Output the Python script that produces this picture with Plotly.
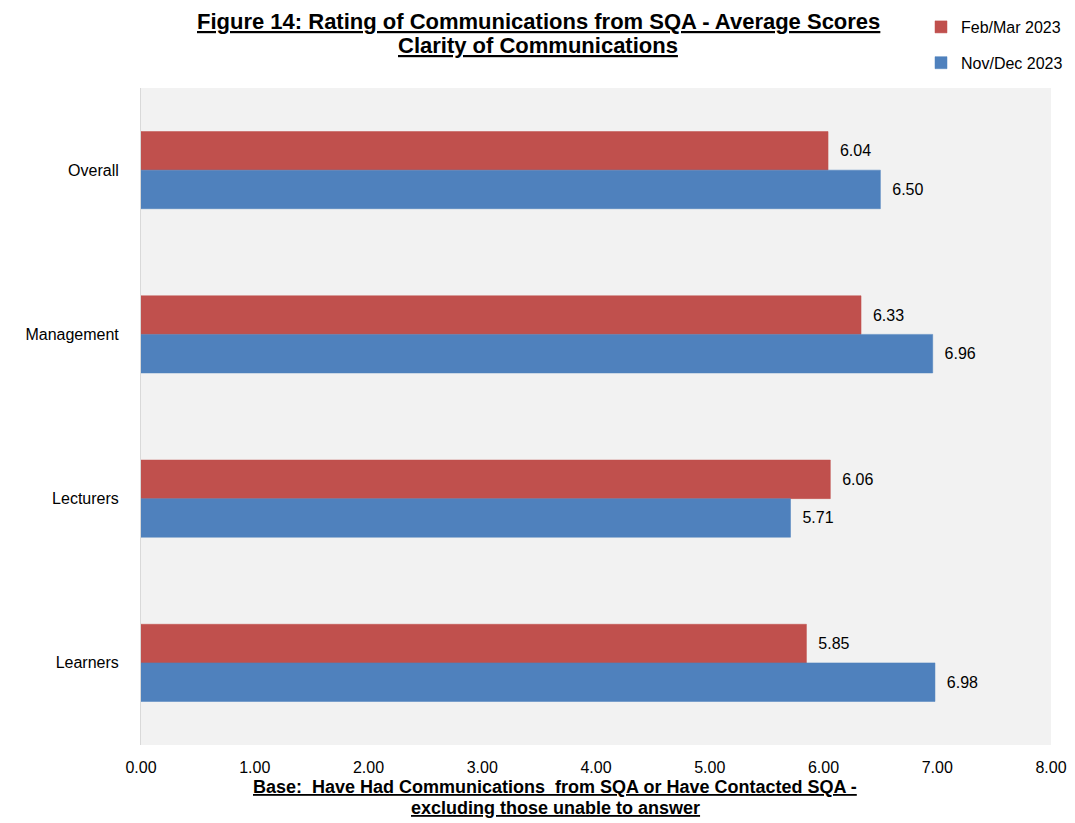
import plotly.graph_objects as go

categories = ["Overall", "Management", "Lecturers", "Learners"]
feb_mar_2023 = [6.04, 6.33, 6.06, 5.85]
nov_dec_2023 = [6.50, 6.96, 5.71, 6.98]
series_names = ["Feb/Mar 2023", "Nov/Dec 2023"]
x_ticks = [0, 1, 2, 3, 4, 5, 6, 7, 8]

# the page body has an 8px default margin; work in screen pixels and convert
OFF = 8
FIG_W, FIG_H = 1075 - 2 * OFF, 823 - OFF
PLOT_LEFT, PLOT_RIGHT = 141 - OFF, 1051 - OFF
PLOT_TOP, PLOT_BOTTOM = 88 - OFF, 745 - OFF
H = PLOT_BOTTOM - PLOT_TOP
W = PLOT_RIGHT - PLOT_LEFT


def py(screen_y):
    return (PLOT_BOTTOM - (screen_y - OFF)) / H


def px(screen_x):
    return ((screen_x - OFF) - PLOT_LEFT) / W


fig = go.Figure()
for name, vals, col in [(series_names[0], feb_mar_2023, "#C0504D"),
                        (series_names[1], nov_dec_2023, "#4F81BD")]:
    fig.add_trace(go.Bar(
        y=categories, x=vals, name=name, orientation="h", legendgroup=name,
        marker=dict(color=col, line=dict(color=col, width=0.5)),
        text=vals, texttemplate="  %{x:.2f}", textposition="outside",
        textfont=dict(family="Liberation Sans, Arial", size=16, color="#000000"),
        cliponaxis=False,
    ))

title_lines = ["Figure 14: Rating of Communications from SQA - Average Scores",
               "Clarity of Communications"]
base_lines = ["Base:  Have Had Communications  from SQA or Have Contacted SQA -",
              "excluding those unable to answer"]

annotations = []
for txt, yc in zip(title_lines, [21, 45]):
    annotations.append(dict(
        text=f"<b><u>{txt}</u></b>", x=px(538), xref="paper", y=py(yc), yref="paper",
        xanchor="center", yanchor="middle", showarrow=False,
        font=dict(family="Liberation Sans, Arial", size=22, color="#000000"),
    ))
for txt, yc in zip(base_lines, [787, 808]):
    annotations.append(dict(
        text=f"<b><u>{txt}</u></b>", x=px(555), xref="paper", y=py(yc), yref="paper",
        xanchor="center", yanchor="middle", showarrow=False,
        font=dict(family="Liberation Sans, Arial", size=18, color="#000000"),
    ))

fig.update_layout(
    width=FIG_W, height=FIG_H,
    margin=dict(l=PLOT_LEFT, r=FIG_W - PLOT_RIGHT, t=PLOT_TOP, b=FIG_H - PLOT_BOTTOM, autoexpand=False),
    barmode="group", bargap=0.53, bargroupgap=0,
    plot_bgcolor="#F2F2F2", paper_bgcolor="#FFFFFF",
    font=dict(family="Liberation Sans, Arial", size=16, color="#000000"),
    legend=dict(
        xref="container", yref="container",
        x=(921 - OFF) / FIG_W, y=1 - 2 / FIG_H, xanchor="left", yanchor="top",
        font=dict(size=16), bgcolor="rgba(0,0,0,0)",
        traceorder="grouped", tracegroupgap=12, itemwidth=30,
    ),
    showlegend=True,
    xaxis=dict(range=[0, 8], tickvals=x_ticks, tickformat=".2f", showgrid=False,
               zeroline=False, showline=False, ticks="", tickfont=dict(size=16),
               ticklabelstandoff=11, ticklabeloverflow="allow"),
    yaxis=dict(autorange="reversed", showgrid=False, showline=True,
               linecolor="#D9D9D9", linewidth=1, ticks="",
               tickfont=dict(size=16), ticklabelstandoff=18),
    annotations=annotations,
)

fig.write_html("out.html")
